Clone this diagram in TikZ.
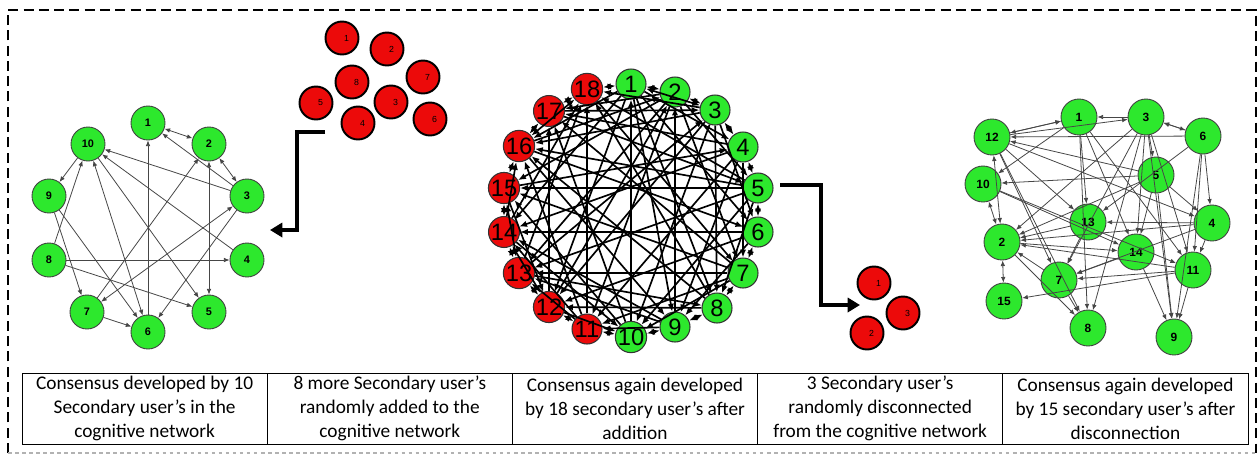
\documentclass[tikz,border=0pt]{standalone}
\usepackage{fontspec}
\setmainfont{Liberation Sans}
\newfontfamily\calib{Carlito}
\usetikzlibrary{arrows.meta}
\definecolor{gfill}{RGB}{45,232,45}
\definecolor{rfill}{RGB}{236,10,10}
\definecolor{edgegray}{RGB}{70,70,70}
\begin{document}
\begin{tikzpicture}[x=0.02cm,y=-0.02cm,
  lnode/.style={circle,draw=black!75,line width=0.5pt,fill=gfill,minimum size=0.68cm,inner sep=0pt,font=\fontsize{6.2}{7}\selectfont\bfseries},
  cg/.style={circle,draw=black!80,line width=0.6pt,fill=gfill,minimum size=0.6cm,inner sep=0pt,font=\fontsize{13.5}{14}\selectfont},
  cr/.style={cg,fill=rfill},
  rg/.style={circle,draw=black!75,line width=0.5pt,fill=gfill,minimum size=0.72cm,inner sep=0pt,font=\fontsize{6.8}{7}\selectfont\bfseries},
  rednode/.style={circle,draw=black,line width=1.1pt,fill=rfill,minimum size=0.66cm,inner sep=0pt},
  rlab/.style={font=\fontsize{5}{6}\selectfont,xshift=0.09cm},
  ledge/.style={draw=edgegray,line width=0.45pt,-{Latex[length=3.2pt,width=2.6pt]}},
  ledgeb/.style={draw=edgegray,line width=0.45pt,{Latex[length=3.2pt,width=2.6pt]}-{Latex[length=3.2pt,width=2.6pt]}},
  cedge/.style={draw=black,line width=0.95pt,-{Latex[length=4.5pt,width=3.6pt]}},
  cedgeb/.style={draw=black,line width=0.95pt,{Latex[length=4.5pt,width=3.6pt]}-{Latex[length=4.5pt,width=3.6pt]}},
  bigarrow/.style={line width=1.8pt,-{Triangle[length=7pt,width=8pt]}},
  cell/.style={draw=black,line width=0.5pt,minimum width=4.904cm,minimum height=1.42cm,inner sep=0pt,align=center,font=\calib\fontsize{11}{13.6}\selectfont}
]
\fill[white] (0,0) rectangle (1260,457);
\useasboundingbox (0,0) rectangle (1260,457);
% outer dashed frame
\draw[line width=1.2pt,dash pattern=on 5.7pt off 3pt] (8,453) -- (8,10) -- (1256,10) -- (1256,453);
\draw[gray!60,line width=0.8pt,dash pattern=on 2pt off 2pt] (8,453) -- (1256,453);

% ---------- left graph ----------
\foreach \n/\x/\y in {1/148/123,2/209/144,3/247/196,4/247/260,5/209/312,6/148/332,7/87/312,8/49/260,9/49/196,10/88/144}
  \node[lnode] (L\n) at (\x,\y) {\n};
\foreach \a/\b in {6/1,3/1,7/2,3/10,3/6,4/10,10/5,10/9,8/10,8/4,8/5,9/7,9/6,7/6}
  \draw[ledge] (L\a) -- (L\b);
\foreach \a/\b in {1/2,2/3,2/5,7/3,10/6}
  \draw[ledgeb] (L\a) -- (L\b);

% ---------- added red users ----------
\foreach \n/\x/\y in {1/342/38,2/387/49,8/352/82,7/423/77,5/316/103,3/391/102,4/358/123,6/430/119}
  \node[rednode,label={[rlab]center:\n}] (A\n) at (\x,\y) {};
\coordinate (a1s) at (325,132);
\coordinate (a1c) at (297,132);
\coordinate (a1d) at (297,230);
\coordinate (a1e) at (270,230);
\draw[bigarrow] (a1s) -- (a1c) -- (a1d) -- (a1e);

% ---------- centre graph ----------
\foreach \n/\x/\y in {1/631/84,2/675/92,3/715/110,4/743/147,5/758/188,6/758/232,7/743/273,8/717/308,9/675/327,10/631/337}
  \node[cg] (C\n) at (\x,\y) {\n};
\foreach \n/\x/\y in {11/587/329,12/549/307,13/519/273,14/504/232,15/504/188,16/519/146,17/549/111,18/587/89}
  \node[cr] (C\n) at (\x,\y) {\n};
\foreach \a/\b in {18/1,1/2,2/3,3/4,4/5,5/6,6/7,7/8,8/9,9/10,10/11,11/12,12/13,13/14,14/15,15/16,16/17,17/18,16/18,1/3,12/14,13/15}
  \draw[cedgeb] (C\a) -- (C\b);
\foreach \a/\b in {5/15,6/14,7/13,10/1,11/18,9/2,
  3/18,5/18,8/18,13/18,14/18,
  2/17,4/17,7/17,10/17,12/17,
  1/16,5/16,8/16,11/16,14/16,3/16,
  2/15,7/15,10/15,
  1/14,4/14,9/14,11/14,
  2/13,5/13,9/13,11/13,
  1/12,3/12,6/12,8/12,15/12,
  2/11,4/11,7/11,9/11,
  3/10,5/10,7/10,12/10,14/10,
  1/9,4/9,6/9,16/9,
  1/8,3/8,5/8,13/8,
  2/7,4/7,18/7,
  1/6,3/6,16/6,
  2/5,17/5,1/4,15/4,17/3,13/3,16/2,12/2}
  \draw[cedge] (C\a) -- (C\b);

% ---------- disconnected red users ----------
\foreach \n/\x/\y in {1/874/283,3/903/313,2/867/333}
  \node[rednode,label={[rlab]center:\n}] (B\n) at (\x,\y) {};
\coordinate (a2s) at (780,185);
\coordinate (a2c) at (821,185);
\coordinate (a2d) at (821,305);
\coordinate (a2e) at (860,305);
\draw[bigarrow] (a2s) -- (a2c) -- (a2d) -- (a2e);

% ---------- right graph ----------
\foreach \n/\x/\y in {1/1079/117,3/1146/117,12/992/137,6/1203/136,10/983/184,5/1156/175,13/1088/222,4/1212/223,2/1002/242,14/1136/252,11/1193/270,7/1059/280,15/1004/301,8/1088/328,9/1174/337}
  \node[rg] (R\n) at (\x,\y) {\n};
\foreach \a/\b in {12/1,12/3,6/12,5/12,12/8,12/7,12/13,1/10,1/13,1/11,1/14,3/1,6/3,3/2,3/5,3/14,3/8,3/9,3/7,3/11,
  6/4,6/11,6/9,6/13,5/10,10/14,10/11,5/4,5/14,5/9,5/2,13/2,4/13,13/7,4/2,4/11,4/7,
  2/14,11/2,2/8,7/2,14/9,11/7,11/15,11/9,7/8,14/7,1/8,12/4}
  \draw[ledge] (R\a) -- (R\b);
\foreach \a/\b in {12/2,10/2,2/15,3/6,12/1}
  \draw[ledgeb] (R\a) -- (R\b);

% ---------- table ----------
\node[cell] (T1) at (144.6,408.5) {Consensus developed by 10\\Secondary user’s in the\\cognitive network};
\node[cell] (T2) at (389.8,408.5) {8 more Secondary user’s\\randomly added to the\\cognitive network};
\node[cell] (T3) at (635.0,408.5) {Consensus again developed\\by 18 secondary user’s after\\addition};
\node[cell] (T4) at (880.2,408.5) {3 Secondary user’s\\randomly disconnected\\from the cognitive network};
\node[cell] (T5) at (1125.4,408.5) {Consensus again developed\\by 15 secondary user’s after\\disconnection};
\end{tikzpicture}
\end{document}
